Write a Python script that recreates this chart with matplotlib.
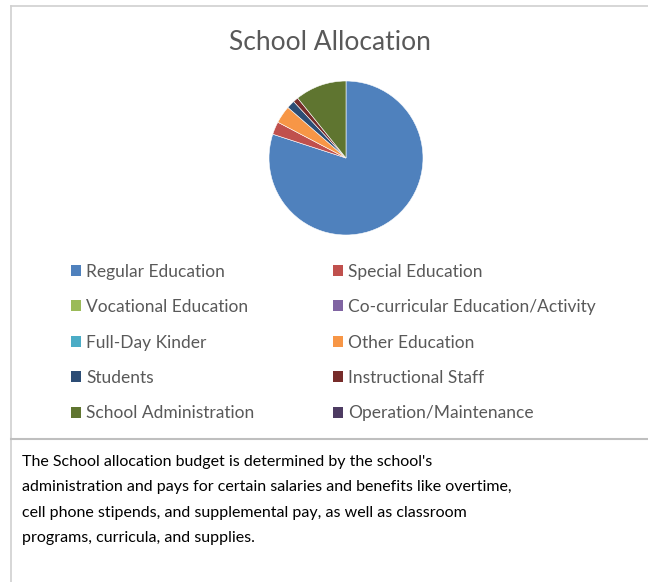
import matplotlib.pyplot as plt
from matplotlib.patches import Patch
from matplotlib.lines import Line2D

categories = ['Regular Education', 'Special Education', 'Vocational Education',
              'Co-curricular Education/Activity', 'Full-Day Kinder', 'Other Education',
              'Students', 'Instructional Staff', 'School Administration',
              'Operation/Maintenance']
shares = [80.0, 2.7, 0.0, 0.0, 0.0, 3.7, 1.7, 1.1, 10.8, 0.0]
colors = ['#4F81BD', '#C0504D', '#9BBB59', '#8064A2', '#4BACC6', '#F79646',
          '#2C4D75', '#772C2A', '#5F7530', '#4D3B62']

caption = ("The School allocation budget is determined by the school's\n"
           "administration and pays for certain salaries and benefits like overtime,\n"
           "cell phone stipends, and supplemental pay, as well as classroom\n"
           "programs, curricula, and supplies.")

plt.rcParams['font.family'] = ['Lato', 'DejaVu Sans']

W, H = 648, 582
fig = plt.figure(figsize=(W / 100, H / 100), dpi=100)

# frame lines
border = '#D0D0D0'
fig.add_artist(Line2D([11 / W, 1], [1 - 6 / H, 1 - 6 / H], color=border, lw=1.2))
fig.add_artist(Line2D([11 / W, 11 / W], [0, 1 - 6 / H], color=border, lw=1.2))
fig.add_artist(Line2D([11 / W, 1], [1 - 439 / H, 1 - 439 / H], color='#BFBFBF', lw=1.5))

fig.text(330 / W, 1 - 42 / H, 'School Allocation', ha='center', va='center',
         fontsize=19, color='#595959')

# pie
cx, cy, r = 346, 158, 77
ax = fig.add_axes([(cx - r) / W, 1 - (cy + r) / H, 2 * r / W, 2 * r / H])
nonzero = [i for i, v in enumerate(shares) if v > 0]
ax.pie([shares[i] for i in nonzero], colors=[colors[i] for i in nonzero],
       startangle=90, counterclock=False,
       wedgeprops=dict(linewidth=0.4, edgecolor='white'))
ax.set_xlim(-1, 1)
ax.set_ylim(-1, 1)
ax.set_aspect('equal')
ax.axis('off')

# legend: row-major order in 2 columns
handles = [Patch(facecolor=c, edgecolor='none') for c in colors]
order = [0, 2, 4, 6, 8, 1, 3, 5, 7, 9]
leg = fig.legend([handles[i] for i in order], [categories[i] for i in order],
                 ncol=2, loc='upper left', bbox_to_anchor=(55 / W, 1 - 248 / H),
                 frameon=False, fontsize=12.5, labelcolor='#595959',
                 handlelength=0.6, handleheight=0.6, handletextpad=0.3,
                 labelspacing=1.12, columnspacing=4.5)

fig.text(22 / W, 1 - 455 / H, caption, ha='left', va='top', fontsize=11.5,
         color='black', linespacing=2.03)

fig.savefig('out.png', dpi=100)
